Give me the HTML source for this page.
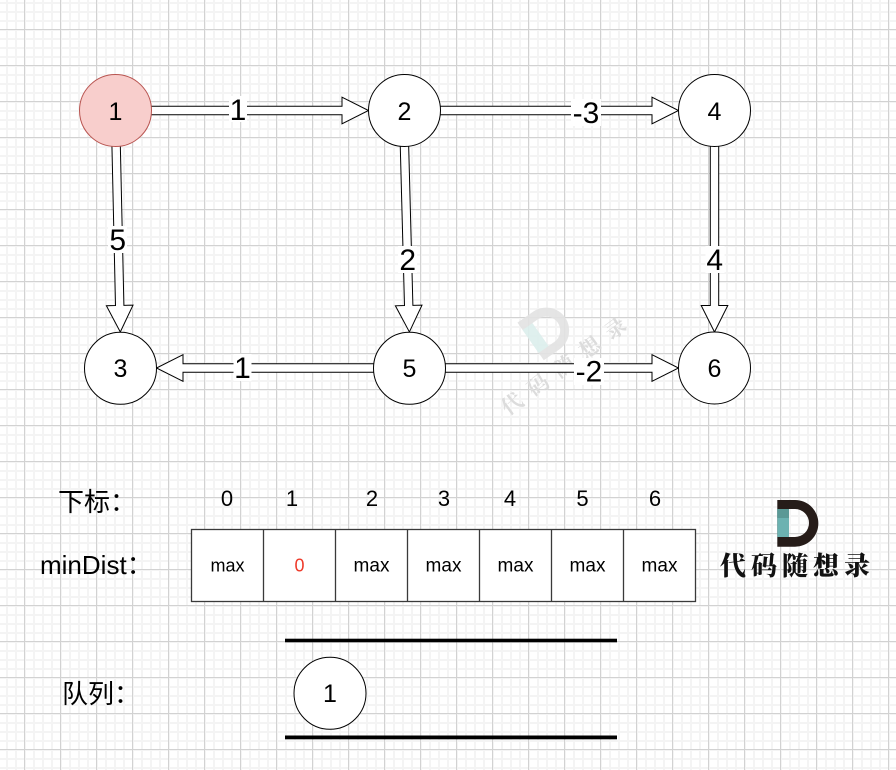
<!DOCTYPE html>
<html><head><meta charset="utf-8"><style>
html,body{margin:0;padding:0;background:#fff;}
svg{display:block;}
</style></head><body>
<svg width="896" height="770" viewBox="0 0 896 770" xmlns="http://www.w3.org/2000/svg">
<defs>
<pattern id="g9" x="6" y="2" width="9" height="9" patternUnits="userSpaceOnUse"><rect width="9" height="2" fill="#f4f4f4"/><rect width="2" height="9" fill="#f4f4f4"/></pattern>
<pattern id="g36" x="24" y="29" width="36" height="36" patternUnits="userSpaceOnUse"><rect width="36" height="1" fill="#d2d2d2"/><rect width="1" height="36" fill="#d2d2d2"/></pattern>
</defs>
<rect width="896" height="770" fill="#fff"/>
<rect width="896" height="770" fill="url(#g9)"/>
<rect width="896" height="770" fill="url(#g36)"/>

<!-- watermark -->
<g transform="translate(547,330) rotate(-35)" opacity="0.9">
  <path d="M-20,-23 H-1 A23,23 0 0 1 -1,23 H-20 Z M-8,-14 V14 H-1 A14,14 0 0 0 -1,-14 Z" fill="#e3e3e3" fill-rule="evenodd"/>
  <rect x="-20" y="-14" width="12" height="28" fill="#dcefed"/>
</g>
<text transform="translate(508,416) rotate(-36)" font-family="'Noto Serif CJK SC','WenQuanYi Zen Hei',serif" font-size="21" font-weight="700" letter-spacing="11" fill="#dcdcdc">代码随想录</text>

<!-- arrows -->
<g fill="#fff" stroke="#000" stroke-width="1">
  <g transform="translate(140,110.5)"><polygon points="0,-4.2 202,-4.2 202,-13.3 228.5,0 202,13.3 202,4.2 0,4.2"/></g>
  <g transform="translate(430,110.5)"><polygon points="0,-4.2 222,-4.2 222,-13.3 248.5,0 222,13.3 222,4.2 0,4.2"/></g>
  <g transform="translate(430,368)"><polygon points="0,-4.2 222,-4.2 222,-13.3 248.5,0 222,13.3 222,4.2 0,4.2"/></g>
  <g transform="translate(385,368) rotate(180)"><polygon points="0,-4.2 202,-4.2 202,-13.3 228.5,0 202,13.3 202,4.2 0,4.2"/></g>
  <g transform="translate(714.5,135) rotate(90)"><polygon points="0,-4.2 170.5,-4.2 170.5,-13.3 197,0 170.5,13.3 170.5,4.2 0,4.2"/></g>
  <g transform="translate(116,140) rotate(88.72)"><polygon points="0,-4.2 165.5,-4.2 165.5,-13.3 192,0 165.5,13.3 165.5,4.2 0,4.2"/></g>
  <g transform="translate(404.3,140) rotate(88.48)"><polygon points="0,-4.2 165.5,-4.2 165.5,-13.3 192,0 165.5,13.3 165.5,4.2 0,4.2"/></g>
</g>

<!-- edge labels -->
<g fill="#fff">
  <rect x="229" y="96" width="18" height="26"/>
  <rect x="571" y="99" width="30" height="27"/>
  <rect x="108" y="226" width="19" height="27"/>
  <rect x="398" y="246" width="19" height="27"/>
  <rect x="705.5" y="246" width="19" height="27"/>
  <rect x="233.5" y="354" width="18" height="27"/>
  <rect x="574" y="358" width="30" height="27"/>
</g>
<g font-family="'Liberation Sans',sans-serif" font-size="30" fill="#000" text-anchor="middle">
  <text x="238" y="120">1</text>
  <text x="586" y="123">-3</text>
  <text x="117.7" y="250">5</text>
  <text x="407.7" y="270">2</text>
  <text x="714.7" y="270">4</text>
  <text x="242.5" y="378">1</text>
  <text x="589" y="381.5">-2</text>
</g>

<!-- nodes -->
<g stroke="#000" stroke-width="1" fill="#fff">
  <circle cx="115.5" cy="110.5" r="36" fill="#f8cecc" stroke="#b85450"/>
  <circle cx="404.5" cy="110.5" r="36"/>
  <circle cx="714.5" cy="110.5" r="36"/>
  <circle cx="120.5" cy="368.3" r="36"/>
  <circle cx="409.5" cy="368.3" r="36"/>
  <circle cx="714.5" cy="368" r="36"/>
  <circle cx="330" cy="693.3" r="36"/>
</g>
<g font-family="'Liberation Sans',sans-serif" font-size="25" fill="#000" text-anchor="middle">
  <text x="115.5" y="120">1</text>
  <text x="404.5" y="120">2</text>
  <text x="714.5" y="120">4</text>
  <text x="120.5" y="377">3</text>
  <text x="409.5" y="377">5</text>
  <text x="714.5" y="377">6</text>
  <text x="330" y="702">1</text>
</g>

<!-- index labels -->
<text x="58" y="511" font-family="'Liberation Sans','Noto Sans CJK SC',sans-serif" font-size="26" fill="#000">下标：</text>
<g font-family="'Liberation Sans',sans-serif" font-size="22" fill="#000" text-anchor="middle">
  <text x="227" y="506">0</text>
  <text x="292" y="506">1</text>
  <text x="372" y="506">2</text>
  <text x="444" y="506">3</text>
  <text x="510" y="506">4</text>
  <text x="582.5" y="506">5</text>
  <text x="655" y="506">6</text>
</g>

<!-- table -->
<text x="40" y="574" font-family="'Liberation Sans','Noto Sans CJK SC',sans-serif" font-size="26" fill="#000">minDist：</text>
<g stroke="#3a3a3a" stroke-width="1.3" fill="#fff">
  <rect x="191.5" y="529.5" width="504" height="72"/>
  <path d="M263.5,529.5V601.5M335.5,529.5V601.5M407.5,529.5V601.5M479.5,529.5V601.5M551.5,529.5V601.5M623.5,529.5V601.5" fill="none"/>
</g>
<g font-family="'Liberation Sans',sans-serif" font-size="19" fill="#000" text-anchor="middle">
  <text x="227.5" y="571.5" font-size="18">max</text>
  <text x="299.5" y="571.5" font-size="18" fill="#ee3b2b">0</text>
  <text x="371.5" y="571.5">max</text>
  <text x="443.5" y="571.5">max</text>
  <text x="515.5" y="571.5">max</text>
  <text x="587.5" y="571.5">max</text>
  <text x="659.5" y="571.5">max</text>
</g>

<!-- logo -->
<path d="M777.3,500 H795 A23.35,23.35 0 0 1 795,546.7 H777.3 Z M789,509 V537 H795 A14,14 0 0 0 795,509 Z" fill="#261c19" fill-rule="evenodd"/>
<rect x="777.3" y="509" width="11.7" height="28" fill="#6cb2b1"/>
<rect x="777.3" y="509" width="11.7" height="9" fill="#5b9996"/>
<text x="720" y="575" font-family="'Noto Serif CJK SC','WenQuanYi Zen Hei',serif" font-size="26" font-weight="900" letter-spacing="5" fill="#111">代码随想录</text>

<!-- queue -->
<text x="62" y="703" font-family="'Liberation Sans','Noto Sans CJK SC',sans-serif" font-size="26" fill="#000">队列：</text>
<rect x="285" y="638.7" width="332" height="3.6" fill="#000"/>
<rect x="285" y="735.5" width="332" height="3.8" fill="#000"/>
</svg>
</body></html>
